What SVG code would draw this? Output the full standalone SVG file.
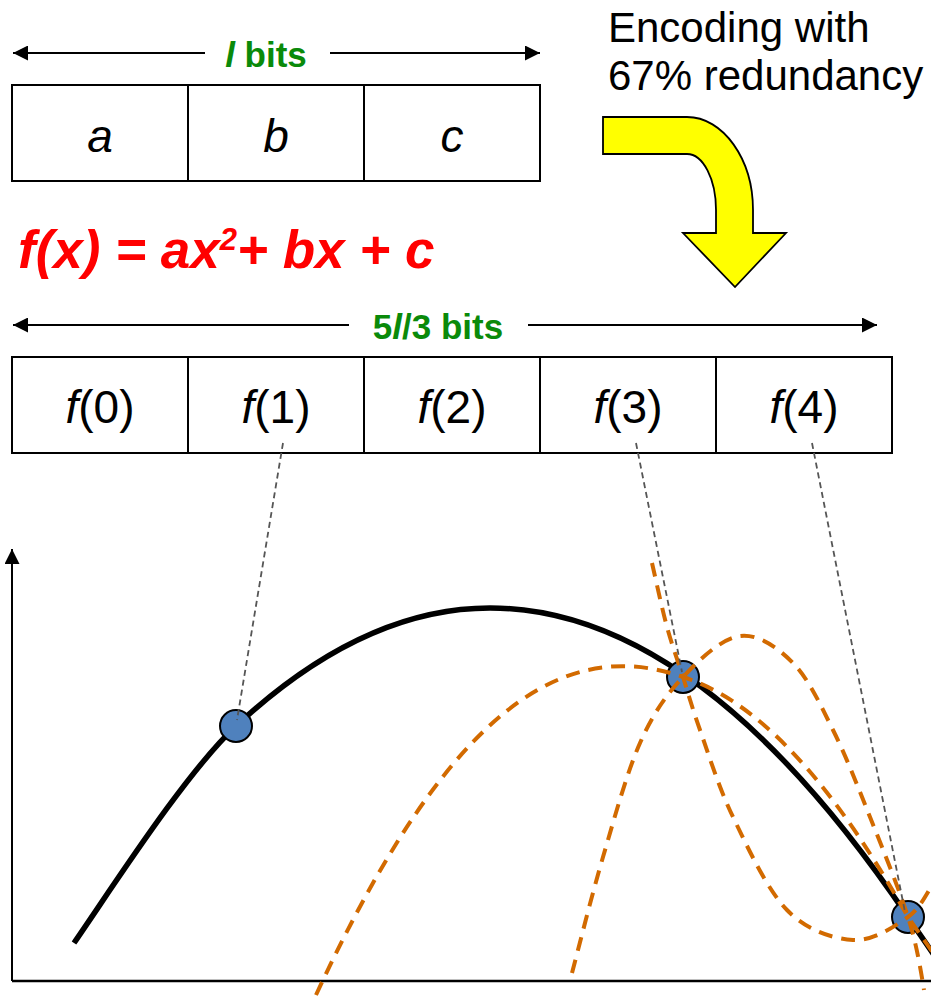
<svg xmlns="http://www.w3.org/2000/svg" width="931" height="1004" viewBox="0 0 931 1004">
<defs>
<marker id="ah" viewBox="0 0 10 10" refX="10" refY="5" markerWidth="15" markerHeight="15" markerUnits="userSpaceOnUse" orient="auto"><path d="M0,0 L10,5 L0,10 Z" fill="#000"/></marker>
<style>
.cell{fill:#fff;stroke:#000;stroke-width:2}
.lbl{font-family:"Liberation Sans",Arial,sans-serif;font-size:46px;fill:#000}
.it{font-style:italic}
.green{font-family:"Liberation Sans",Arial,sans-serif;font-size:35px;font-weight:bold;fill:#0A8A0A}
.dim{stroke:#000;stroke-width:2;fill:none;marker-end:url(#ah)}
.lead{stroke:#555;stroke-width:1.8;stroke-dasharray:6 4;fill:none}
.alt{stroke:#D26A00;stroke-width:4;stroke-dasharray:14 9;fill:none}
.pt{fill:#4F81BD;stroke:#000;stroke-width:2}
</style>
</defs>
<rect x="0" y="0" width="931" height="1004" fill="#fff"/>

<g id="top-dimension">
<line class="dim" x1="205" y1="53" x2="13" y2="53"/>
<line class="dim" x1="330" y1="53" x2="540" y2="53"/>
<text class="green" x="266" y="67" text-anchor="middle"><tspan class="it">l</tspan> bits</text>
</g>

<g id="cell-a"><rect class="cell" x="12" y="85" width="176" height="96"/><text class="lbl it" x="100" y="152" text-anchor="middle">a</text></g>
<g id="cell-b"><rect class="cell" x="188" y="85" width="176" height="96"/><text class="lbl it" x="276" y="152" text-anchor="middle">b</text></g>
<g id="cell-c"><rect class="cell" x="364" y="85" width="176" height="96"/><text class="lbl it" x="452" y="152" text-anchor="middle">c</text></g>

<g id="encoding-label">
<text font-family="Liberation Sans, Arial, sans-serif" font-size="42" fill="#000"><tspan x="608" y="42">Encoding with</tspan><tspan x="608" y="90">67% redundancy</tspan></text>
</g>

<g id="encoding-arrow">
<path d="M603,117 L687,117 C723,117 753,159 753,210 L753,233 L786,233 L735,287 L683,233 L716,233 L716,210 C716,179 703,154 687,154 L603,154 Z" fill="#FFFF00" stroke="#000" stroke-width="1.8" stroke-linejoin="miter"/>
</g>

<g id="formula">
<text x="18" y="268" font-family="Liberation Sans, Arial, sans-serif" font-size="53" font-weight="bold" font-style="italic" fill="#FF0000">f(x) = ax<tspan font-size="31" dy="-18">2</tspan><tspan dy="18">+ bx + c</tspan></text>
</g>

<g id="bottom-dimension">
<line class="dim" x1="349" y1="325" x2="13" y2="325"/>
<line class="dim" x1="528" y1="325" x2="877" y2="325"/>
<text class="green" x="438" y="339" text-anchor="middle">5<tspan class="it">l</tspan>/3 bits</text>
</g>

<g id="cell-f0"><rect class="cell" x="12" y="357" width="176" height="96"/><text class="lbl" x="100" y="423" text-anchor="middle"><tspan class="it">f</tspan>(0)</text></g>
<g id="cell-f1"><rect class="cell" x="188" y="357" width="176" height="96"/><text class="lbl" x="276" y="423" text-anchor="middle"><tspan class="it">f</tspan>(1)</text></g>
<g id="cell-f2"><rect class="cell" x="364" y="357" width="176" height="96"/><text class="lbl" x="452" y="423" text-anchor="middle"><tspan class="it">f</tspan>(2)</text></g>
<g id="cell-f3"><rect class="cell" x="540" y="357" width="176" height="96"/><text class="lbl" x="628" y="423" text-anchor="middle"><tspan class="it">f</tspan>(3)</text></g>
<g id="cell-f4"><rect class="cell" x="716" y="357" width="176" height="96"/><text class="lbl" x="804" y="423" text-anchor="middle"><tspan class="it">f</tspan>(4)</text></g>

<g id="axes">
<line x1="12" y1="981" x2="931" y2="981" stroke="#000" stroke-width="2.5"/>
<line class="dim" x1="12" y1="981" x2="12" y2="549" stroke-width="2.5"/>
</g>

<g id="true-curve">
<path d="M74,943 C114,885 186,772.5 236,726 C321,647 405,608 490,608 C629.3,608 768.7,711 908,917 L938,961" fill="none" stroke="#000" stroke-width="5.5"/>
</g>

<g id="point-1"><circle class="pt" cx="236" cy="726" r="16"/></g>
<g id="point-3"><circle class="pt" cx="683" cy="677" r="16"/></g>
<g id="point-4"><circle class="pt" cx="908" cy="917" r="16"/></g>

<g id="alternative-curves">
<path class="alt" d="M316,995 C440,728 553,631.5 683,677 C770,705 845,805 908,917 L938,960"/>
<path class="alt" d="M572,973 C577.2,953.7 591.7,895.3 603,857 C614.3,818.7 626.7,773 640,743 C653.3,713 666.3,694.8 683,677 C699.7,659.2 721.7,638.3 740,636 C758.3,633.7 777.5,647.3 793,663 C808.5,678.7 820.2,704.3 833,730 C845.8,755.7 857.5,785.8 870,817 C882.5,848.2 899,889 908,917 C917,945 921.3,973.7 924,990"/>
<path class="alt" d="M652,563 C654.5,573.7 661.8,608 667,627 C672.2,646 677.5,659.8 683,677 C688.5,694.2 691.7,706.7 700,730 C708.3,753.3 718.5,787 733,817 C747.5,847 767,889.5 787,910 C807,930.5 832.8,938.8 853,940 C873.2,941.2 894.8,926.2 908,917 C921.2,907.8 928,890.3 940,872"/>
</g>

<g id="connectors">
<line class="lead" x1="283" y1="443" x2="237" y2="720"/>
<line class="lead" x1="636" y1="443" x2="682" y2="672"/>
<line class="lead" x1="812" y1="443" x2="905" y2="912"/>
</g>
</svg>
